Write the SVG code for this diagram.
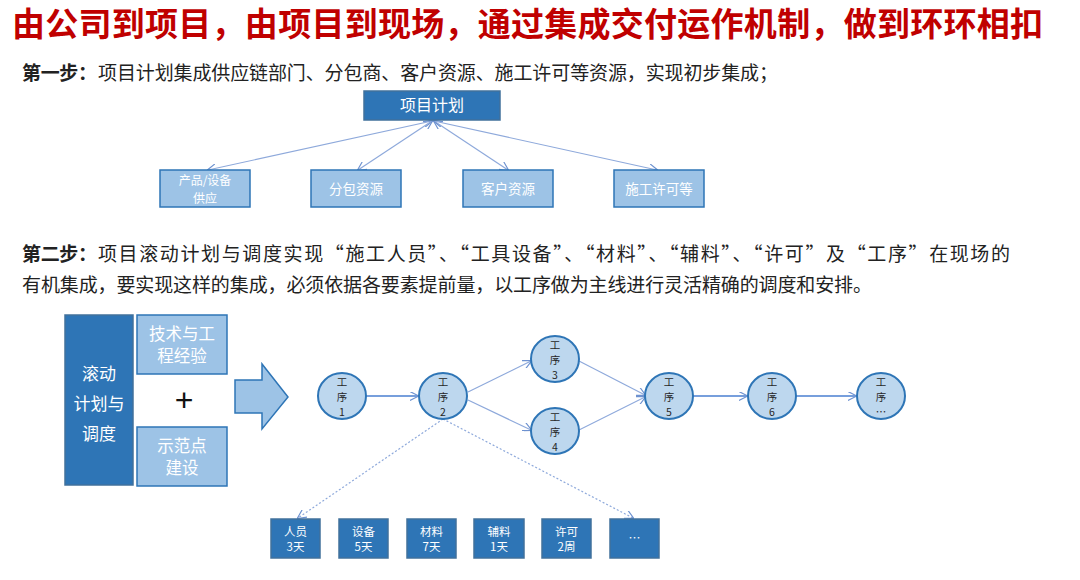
<svg xmlns="http://www.w3.org/2000/svg" width="1080" height="580" viewBox="0 0 1080 580">
<style>
text{font-family:"Noto Sans CJK SC","Liberation Sans",sans-serif;}
.title{font-size:33px;font-weight:bold;fill:#C00000;}
.body{font-size:19px;fill:#222;}
.bold{font-weight:bold;}
.dark{fill:#2E75B6;stroke:#41719C;stroke-width:1.5;}
.light{fill:#9DC3E6;stroke:#2E75B6;stroke-width:1.5;}
.circ{fill:#BDD7EE;stroke:#2E75B6;stroke-width:2;}
.wt{fill:#fff;text-anchor:middle;}
.ct{fill:#262626;font-size:10.5px;text-anchor:middle;}
.conn{fill:none;stroke:#8EA9DB;stroke-width:1.2;}
.solid{fill:none;stroke:#4A7FD0;stroke-width:1.5;}
.dot{fill:none;stroke:#8EA9DB;stroke-width:1.2;stroke-dasharray:2 2;}
</style>
<defs>
<marker id="ah" viewBox="0 0 10 10" refX="9" refY="5" markerWidth="9" markerHeight="9" markerUnits="userSpaceOnUse" orient="auto-start-reverse">
<path d="M0,0 L10,5 L0,10" fill="none" stroke="#6E92D0" stroke-width="1.3"/>
</marker>
</defs>
<rect width="1080" height="580" fill="#fff"/>
<text class="title" x="12" y="36" textLength="1031">由公司到项目，由项目到现场，通过集成交付运作机制，做到环环相扣</text>
<text class="body bold" x="22" y="80" textLength="75">第一步：</text>
<text class="body" x="98" y="80" textLength="680">项目计划集成供应链部门、分包商、客户资源、施工许可等资源，实现初步集成；</text>
<text class="body bold" x="22" y="261" textLength="75">第二步：</text>
<text class="body" x="98" y="261" textLength="912">项目滚动计划与调度实现“施工人员”、“工具设备”、“材料”、“辅料”、“许可”及“工序”在现场的</text>
<text class="body" x="22" y="292" textLength="850">有机集成，要实现这样的集成，必须依据各要素提前量，以工序做为主线进行灵活精确的调度和安排。</text>

<g id="connectors">
<line class="conn" x1="432" y1="121" x2="208" y2="170" marker-start="url(#ah)" marker-end="url(#ah)"/>
<line class="conn" x1="432" y1="121" x2="358" y2="170" marker-start="url(#ah)" marker-end="url(#ah)"/>
<line class="conn" x1="434" y1="121" x2="508" y2="170" marker-start="url(#ah)" marker-end="url(#ah)"/>
<line class="conn" x1="434" y1="121" x2="657" y2="170" marker-start="url(#ah)" marker-end="url(#ah)"/>
<line class="solid" x1="366" y1="396" x2="418" y2="396" marker-end="url(#ah)"/>
<line class="conn" x1="468" y1="392" x2="531" y2="361" marker-end="url(#ah)"/>
<line class="conn" x1="468" y1="400" x2="531" y2="430" marker-end="url(#ah)"/>
<line class="conn" x1="579" y1="361" x2="645" y2="395" marker-end="url(#ah)"/>
<line class="conn" x1="579" y1="430" x2="645" y2="397" marker-end="url(#ah)"/>
<line class="solid" x1="693" y1="396" x2="747" y2="396" marker-end="url(#ah)"/>
<line class="solid" x1="796" y1="396" x2="856" y2="396" marker-end="url(#ah)"/>
<line class="dot" x1="443" y1="419" x2="298" y2="518" marker-end="url(#ah)"/>
<line class="dot" x1="443" y1="419" x2="633" y2="518" marker-end="url(#ah)"/>
</g>

<g id="plan">
<rect class="dark" x="364" y="91" width="136" height="29"/>
<text class="wt" x="432" y="111" font-size="16">项目计划</text>
</g>
<g id="product">
<rect class="light" x="160" y="170" width="90" height="37"/>
<text class="wt" font-size="12"><tspan x="205" y="185">产品/设备</tspan><tspan x="205" y="202.5">供应</tspan></text>
</g>
<g id="subcontract">
<rect class="light" x="311" y="170" width="90" height="37"/>
<text class="wt" x="356" y="194" font-size="13.5">分包资源</text>
</g>
<g id="customer">
<rect class="light" x="463" y="170" width="90" height="37"/>
<text class="wt" x="508" y="194" font-size="13.5">客户资源</text>
</g>
<g id="permit">
<rect class="light" x="614" y="170" width="90" height="37"/>
<text class="wt" x="659" y="194" font-size="13.5">施工许可等</text>
</g>

<g id="rolling">
<rect class="dark" x="65" y="315" width="68" height="170"/>
<text class="wt" font-size="17"><tspan x="99" y="380">滚动</tspan><tspan x="99" y="410">计划与</tspan><tspan x="99" y="440">调度</tspan></text>
</g>
<g id="tech">
<rect class="light" x="137" y="315" width="90" height="59"/>
<text class="wt" font-size="16.5"><tspan x="182" y="340">技术与工</tspan><tspan x="182" y="362">程经验</tspan></text>
</g>
<text x="184" y="411" font-size="32" text-anchor="middle" fill="#111" style="font-family:'Liberation Sans',sans-serif">+</text>
<g id="demo">
<rect class="light" x="137" y="427" width="90" height="59"/>
<text class="wt" font-size="16.5"><tspan x="182" y="452">示范点</tspan><tspan x="182" y="474">建设</tspan></text>
</g>
<g id="bigarrow">
<path d="M235,380 L262,380 L262,364 L288,397 L262,429 L262,413 L235,413 Z" fill="#9DC3E6" stroke="#2E75B6" stroke-width="1.5"/>
</g>

<g id="p1"><ellipse class="circ" cx="342" cy="396" rx="24" ry="23"/><text class="ct"><tspan x="342" y="386">工</tspan><tspan x="342" y="401">序</tspan><tspan x="342" y="416">1</tspan></text></g>
<g id="p2"><ellipse class="circ" cx="443" cy="396" rx="24" ry="23"/><text class="ct"><tspan x="443" y="386">工</tspan><tspan x="443" y="401">序</tspan><tspan x="443" y="416">2</tspan></text></g>
<g id="p3"><ellipse class="circ" cx="555" cy="359" rx="24" ry="23"/><text class="ct"><tspan x="555" y="349">工</tspan><tspan x="555" y="364">序</tspan><tspan x="555" y="379">3</tspan></text></g>
<g id="p4"><ellipse class="circ" cx="555" cy="431" rx="24" ry="23"/><text class="ct"><tspan x="555" y="421">工</tspan><tspan x="555" y="436">序</tspan><tspan x="555" y="451">4</tspan></text></g>
<g id="p5"><ellipse class="circ" cx="669" cy="396" rx="24" ry="23"/><text class="ct"><tspan x="669" y="386">工</tspan><tspan x="669" y="401">序</tspan><tspan x="669" y="416">5</tspan></text></g>
<g id="p6"><ellipse class="circ" cx="772" cy="396" rx="24" ry="23"/><text class="ct"><tspan x="772" y="386">工</tspan><tspan x="772" y="401">序</tspan><tspan x="772" y="416">6</tspan></text></g>
<g id="pn"><ellipse class="circ" cx="881" cy="396" rx="24" ry="23"/><text class="ct"><tspan x="881" y="386">工</tspan><tspan x="881" y="401">序</tspan><tspan x="881" y="416">…</tspan></text></g>

<g id="r1"><rect class="dark" x="271" y="519" width="49" height="39"/><text class="wt" font-size="11.5"><tspan x="295.5" y="536">人员</tspan><tspan x="295.5" y="551">3天</tspan></text></g>
<g id="r2"><rect class="dark" x="339" y="519" width="49" height="39"/><text class="wt" font-size="11.5"><tspan x="363.5" y="536">设备</tspan><tspan x="363.5" y="551">5天</tspan></text></g>
<g id="r3"><rect class="dark" x="407" y="519" width="49" height="39"/><text class="wt" font-size="11.5"><tspan x="431.5" y="536">材料</tspan><tspan x="431.5" y="551">7天</tspan></text></g>
<g id="r4"><rect class="dark" x="474" y="519" width="50" height="39"/><text class="wt" font-size="11.5"><tspan x="499" y="536">辅料</tspan><tspan x="499" y="551">1天</tspan></text></g>
<g id="r5"><rect class="dark" x="542" y="519" width="49" height="39"/><text class="wt" font-size="11.5"><tspan x="566.5" y="536">许可</tspan><tspan x="566.5" y="551">2周</tspan></text></g>
<g id="r6"><rect class="dark" x="610" y="519" width="49" height="39"/><text class="wt" x="634.5" y="543" font-size="12">…</text></g>
</svg>
